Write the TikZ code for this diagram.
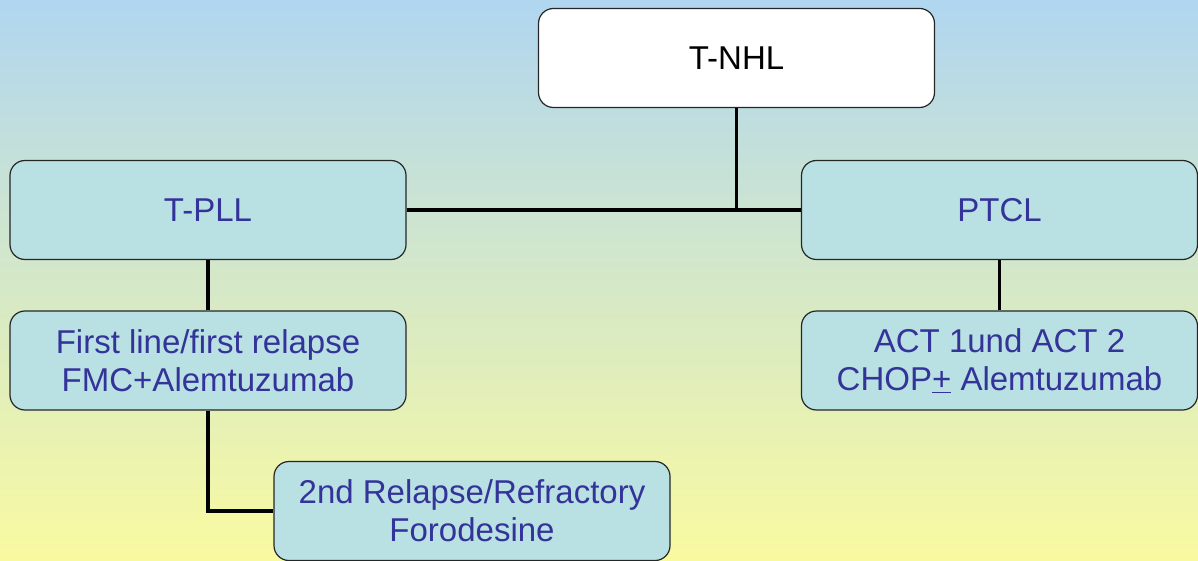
\documentclass[tikz,border=0pt]{standalone}
\usepackage{fontspec}
\setmainfont{Liberation Sans}
\definecolor{bgtop}{RGB}{176,214,240}
\definecolor{bgbot}{RGB}{249,250,160}
\definecolor{boxfill}{RGB}{185,224,227}
\definecolor{boxtext}{RGB}{51,51,153}
\tikzset{
  box/.style={draw=black!85, line width=1.2pt, rounded corners=15pt,
    minimum width=396pt, minimum height=99pt, align=center,
    fill=boxfill, text=boxtext, inner sep=0pt,
    font=\fontsize{33}{38}\selectfont},
  topbox/.style={box, fill=white, text=black},
  link/.style={line width=3.5pt, draw=black}
}
\begin{document}
\begin{tikzpicture}[x=1pt,y=-1pt]
  % page area and soft sky-to-yellow background
  \useasboundingbox (0,0) rectangle (1198,561);
  \shade[top color=bgtop, bottom color=bgbot] (0,0) rectangle (1198,561);

  % boxes
  \node[topbox] (tnhl) at (736.5,58) {T-NHL};
  \node[box] (tpll) at (208,210) {T-PLL};
  \node[box] (ptcl) at (999.5,210) {PTCL};
  \node[box] (first) at (208,360.5) {First line/first relapse\\FMC+Alemtuzumab};
  \node[box] (act) at (999.5,360.5) {ACT 1und ACT 2\\CHOP\underline{+} Alemtuzumab};
  \node[box] (relapse) at (472,511) {2nd Relapse/Refractory\\Forodesine};

  % tree lines
  \coordinate (join) at (tnhl.south |- tpll.east);
  \draw[link] (tnhl.south) -- (join);
  \draw[link] (tpll.east) -- (ptcl.west);
  \draw[link] (tpll.south) -- (first.north);
  \draw[link] (ptcl.south) -- (act.north);
  \draw[link] (first.south) |- (relapse.west);
\end{tikzpicture}
\end{document}
